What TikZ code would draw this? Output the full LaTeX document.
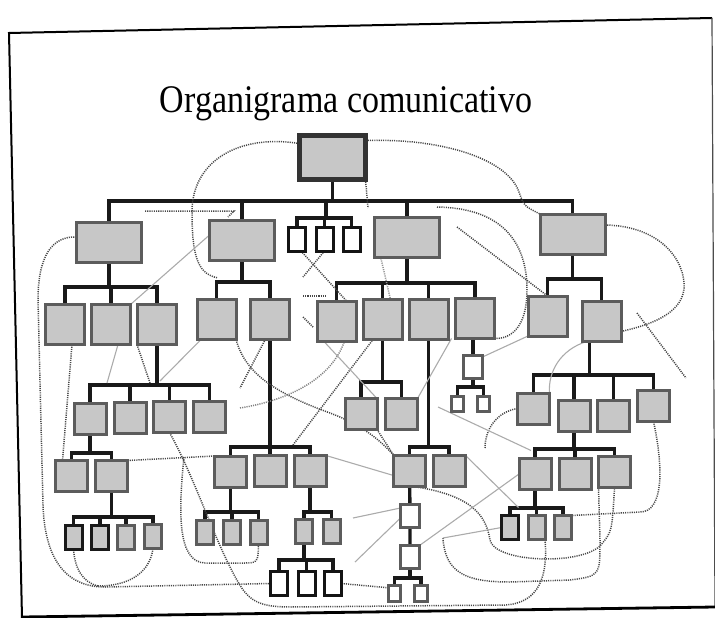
\documentclass[tikz,border=0pt]{standalone}
\usepackage{fontspec}
\setmainfont{Liberation Serif}
\usetikzlibrary{backgrounds}

\tikzset{
  box/.style={draw=black!64, line width=3pt, fill=black!22, inner sep=0pt, outer sep=0pt},
  head/.style={box, draw=black!80, line width=4.5pt, minimum width=66pt, minimum height=44pt},
  unit/.style={box, minimum width=65pt, minimum height=40pt},
  team/.style={box, minimum width=39pt, minimum height=40pt},
  seat/.style={box, minimum width=32pt, minimum height=31pt},
  desk/.style={box, minimum width=17pt, minimum height=24pt},
  ddesk/.style={desk, draw=black!90},
  wdesk/.style={desk, draw=black!92, fill=white},
  slot/.style={box, fill=white, minimum width=19pt, minimum height=23pt},
  cell/.style={box, fill=white, line width=2.6pt, minimum width=12.5pt, minimum height=15.5pt},
  link/.style={line width=3.4pt, black!90, line cap=rect},
  rumor/.style={line width=1.5pt, black!72, dash pattern=on 1.1pt off 1.1pt},
  contact/.style={line width=1.1pt, black!33},
}

\begin{document}
\begin{tikzpicture}[x=1pt, y=-1pt]
    \useasboundingbox (0,0) rectangle (715,618);

    % sheet
    \coordinate (tl) at (9,33);
    \coordinate (tr) at (712,18);
    \coordinate (bl) at (22,618);
    \coordinate (br) at (715,607);
    \draw[line width=2pt] (bl) -- (tl) -- (tr);
    \draw[line width=1.2pt, black!70] (tr) -- (br);
    \draw[line width=2.8pt] ([yshift=1pt]bl) -- (br);

    \node[font=\fontsize{34}{40}\selectfont, anchor=base, yscale=1.15, transform shape] (title) at (346,113) {Organigrama comunicativo};

    % top
    \node[head] (root) at (332.5,157.5) {};

    % first level
    \node[unit] (A) at (109,242) {};
    \node[unit] (B) at (242,240) {};
    \node[unit] (C) at (407,237.5) {};
    \node[unit] (D) at (572.5,234) {};
    \node[wdesk] (w1) at (297,239) {};
    \node[wdesk] (w2) at (324.5,239) {};
    \node[wdesk] (w3) at (351.5,239) {};

    % second level
    \node[team] (A1) at (65,324.5) {};
    \node[team] (A2) at (111,324.5) {};
    \node[team] (A3) at (157,324.5) {};
    \node[team] (B1) at (216.5,319.5) {};
    \node[team] (B2) at (270,319) {};
    \node[team] (C1) at (336.5,321) {};
    \node[team] (C2) at (382.5,319.5) {};
    \node[team] (C3) at (428.5,319) {};
    \node[team] (C4) at (475,318.5) {};
    \node[team] (D1) at (547.5,316) {};
    \node[team] (D2) at (601.5,321.5) {};

    % left branch
    \node[seat] (A31) at (90,419) {};
    \node[seat] (A32) at (130,418) {};
    \node[seat] (A33) at (169.5,417) {};
    \node[seat] (A34) at (209.5,417) {};
    \node[seat] (A311) at (71.5,476) {};
    \node[seat] (A312) at (111.5,476) {};
    \node[ddesk] (a1) at (73.5,537.5) {};
    \node[ddesk] (a2) at (100,537.5) {};
    \node[desk] (a3) at (126,537.5) {};
    \node[desk] (a4) at (153,536.5) {};

    % middle-left branch
    \node[seat] (B21) at (230.5,471.5) {};
    \node[seat] (B22) at (270,471) {};
    \node[seat] (B23) at (310,471) {};
    \node[desk] (b1) at (205,532) {};
    \node[desk] (b2) at (232,532) {};
    \node[desk] (b3) at (258.5,532) {};
    \node[desk] (b4) at (304,531) {};
    \node[desk] (b5) at (331.5,531) {};
    \node[wdesk] (b6) at (279,583.5) {};
    \node[wdesk] (b7) at (306.5,583.5) {};
    \node[wdesk] (b8) at (333,583.5) {};

    % middle-right branch
    \node[seat] (C21) at (361,414) {};
    \node[seat] (C22) at (401.5,414) {};
    \node[seat] (C31) at (409.5,470.5) {};
    \node[seat] (C32) at (449,470.5) {};
    \node[slot] (s1) at (410,516) {};
    \node[slot] (s2) at (410,557) {};
    \node[cell] (t1) at (394.5,593.5) {};
    \node[cell] (t2) at (421,593.5) {};
    \node[slot] (u) at (473,367) {};
    \node[cell] (u1) at (457.5,404) {};
    \node[cell] (u2) at (483.5,404) {};

    % right branch
    \node[seat] (D21) at (533.5,408.5) {};
    \node[seat] (D22) at (574,416) {};
    \node[seat] (D23) at (613.5,415.5) {};
    \node[seat] (D24) at (653.5,406) {};
    \node[seat] (D221) at (535,474) {};
    \node[seat] (D222) at (575,474) {};
    \node[seat] (D223) at (614.5,472) {};
    \node[ddesk] (d1) at (510,527.5) {};
    \node[desk] (d2) at (536.5,527.5) {};
    \node[desk] (d3) at (563,527.5) {};

    \begin{scope}[on background layer]
        % formal lines
        \coordinate (lv0) at (0,201);
        \coordinate (w0) at (326,218);
        \foreach \c in {A,B,C,D,w0} \draw[link] (root) |- (\c |- lv0) -- (\c);
        \foreach \c in {w1,w2,w3} \draw[link] (w0) -- (\c |- w0) -- (\c);
        \coordinate (lvA) at (0,287);
        \foreach \c in {A1,A2,A3} \draw[link] (A) |- (\c |- lvA) -- (\c);
        \coordinate (lvB) at (0,282);
        \foreach \c in {B1,B2} \draw[link] (B) |- (\c |- lvB) -- (\c);
        \coordinate (lvC) at (0,283);
        \foreach \c in {C1,C2,C3,C4} \draw[link] (C) |- (\c |- lvC) -- (\c);
        \coordinate (lvD) at (0,279);
        \foreach \c in {D1,D2} \draw[link] (D) |- (\c |- lvD) -- (\c);
        \coordinate (lvA3) at (0,385);
        \foreach \c in {A31,A32,A33,A34} \draw[link] (A3) |- (\c |- lvA3) -- (\c);
        \coordinate (lvA31) at (0,453);
        \foreach \c in {A311,A312} \draw[link] (A31) |- (\c |- lvA31) -- (\c);
        \coordinate (lvA312) at (0,517);
        \foreach \c in {a1,a2,a3,a4} \draw[link] (A312) |- (\c |- lvA312) -- (\c);
        \coordinate (lvB2) at (0,447);
        \foreach \c in {B21,B22,B23} \draw[link] (B2) |- (\c |- lvB2) -- (\c);
        \coordinate (lvB21) at (0,512);
        \foreach \c in {b1,b2,b3} \draw[link] (B21) |- (\c |- lvB21) -- (\c);
        \foreach \c in {b4,b5} \draw[link] (B23) |- (\c |- lvB21) -- (\c);
        \coordinate (lvb4) at (0,560);
        \foreach \c in {b6,b7,b8} \draw[link] (b4) |- (\c |- lvb4) -- (\c);
        \coordinate (lvC2) at (0,382);
        \foreach \c in {C21,C22} \draw[link] (C2) |- (\c |- lvC2) -- (\c);
        \coordinate (lvC3) at (0,447);
        \foreach \c in {C31,C32} \draw[link] (C3) |- (\c |- lvC3) -- (\c);
        \draw[link] (C31) -- (s1) -- (s2);
        \coordinate (lvs2) at (0,578);
        \foreach \c in {t1,t2} \draw[link] (s2) |- (\c |- lvs2) -- (\c);
        \draw[link] (u) -- (u |- C4.south);
        \coordinate (lvu) at (0,387);
        \foreach \c in {u1,u2} \draw[link] (u) |- (\c |- lvu) -- (\c);
        \coordinate (lvD2) at (0,375);
        \foreach \c in {D21,D22,D23,D24} \draw[link] ([xshift=-12pt]D2.south) |- (\c |- lvD2) -- (\c);
        \coordinate (lvD22) at (0,449);
        \foreach \c in {D221,D222,D223} \draw[link] (D22) |- (\c |- lvD22) -- (\c);
        \coordinate (lvD221) at (0,508);
        \foreach \c in {d1,d2,d3} \draw[link] (D221) |- (\c |- lvD221) -- (\c);

        % informal channels
        \coordinate (p1) at (218,278);
        \draw[rumor] ([yshift=14pt]root.west) .. controls (240,134) and (192,160) .. (192,212) .. controls (192,262) and (200,274) .. (p1);
        \draw[rumor] ([yshift=17pt]root.east) .. controls (445,138) and (508,160) .. (519,192) .. controls (524,206) .. (D.north west);
        \coordinate (p2) at (368,208);
        \draw[rumor] (root.south east) -- (p2);
        \coordinate (p3) at (145,211);
        \coordinate (p4) at (228,217);
        \draw[rumor] (p3) -- (234,211) -- (p4);
        \coordinate (p5) at (437,207);
        \draw[rumor] (p5) .. controls (500,208) and (527,240) .. (527,290) .. controls (527,326) and (512,339) .. (C4.south east);
        \draw[rumor] ([yshift=9pt]D.east) .. controls (662,226) and (686,262) .. (684,289) .. controls (681,316) and (645,326) .. ([yshift=-10pt]D2.east);
        \coordinate (p6) at (457,227);
        \draw[rumor] (p6) -- (D1.north);
        \coordinate (p7) at (637,313);
        \coordinate (p8) at (686,378);
        \draw[rumor] (p7) -- (p8);
        \draw[rumor] ([yshift=5pt]A.west) .. controls (52,236) and (38,256) .. (38,300) -- (43,505) .. controls (45,565) and (70,587) .. (105,587) -- (b6.west);
        \draw[rumor] (b8.east) -- ([yshift=-2pt]t1.north west);
        \draw[rumor] ([xshift=7pt]A1.south) -- ([xshift=-9pt]A311.north);
        \coordinate (p9) at (98,586);
        \draw[rumor] (a1.south) .. controls (75,568) and (82,582) .. (p9);
        \draw[rumor] (a4.south) .. controls (150,572) and (130,586) .. (p9);
        \draw[rumor] (A312.north east) -- (B21.north west);
        \coordinate (p10) at (184,457);
        \draw[rumor] (p10) .. controls (178,515) and (178,562) .. (205,563) -- (242,563) .. controls (258,563) .. (b3.south);
        \draw[rumor] (A33.south) .. controls (195,478) and (214,540) .. (238,582) .. controls (250,603) and (262,607) .. (292,607) -- (505,605) .. controls (540,603) and (548,575) .. (d2.south east);
        \draw[rumor] (C31.south) .. controls (470,494) and (486,514) .. (490,540) .. controls (494,562) and (578,566) .. (600,546) .. controls (612,532) .. (D223.south);
        \coordinate (p11) at (443,538);
        \draw[rumor] (p11) .. controls (445,574) and (468,582) .. (510,582) -- (570,580) .. controls (600,576) .. (600,540) -- (D223.south west);
        \draw[rumor] (D24.south) .. controls (664,470) and (663,512) .. (640,512) -- (d3.north east);
        \coordinate (p12) at (485,448);
        \draw[rumor] (D21.west) .. controls (496,412) and (485,430) .. (p12);
        \coordinate (p13) at (293,445);
        \draw[rumor] (p13) -- ([xshift=10pt]C2.south west);
        \draw[rumor] (B1.south east) .. controls (245,372) and (272,392) .. (330,413) .. controls (362,425) and (380,440) .. (C31.north west);
        \coordinate (p14) at (240,388);
        \draw[rumor] ([xshift=15pt]B2.south west) -- (p14);
        \coordinate (p15) at (303,296);
        \coordinate (p16) at (327,296);
        \draw[rumor] (p15) -- (p16);
        \coordinate (p17) at (303,317);
        \coordinate (p18) at (313,327);
        \draw[rumor] (p17) -- (p18);
        \coordinate (p19) at (150,383);
        \draw[rumor] ([xshift=-20pt]A3.south) -- (p19);
        \draw[rumor] ([xshift=4pt]w1.south) -- ([xshift=10pt]C1.north);
        \coordinate (p20) at (303,277);
        \draw[rumor] (w2.south) -- (p20);
        \draw[rumor, black!42] ([yshift=7pt]C.west) -- ([xshift=8pt]C2.north);
        \draw[rumor] (C21.south east) -- (C31.north west);
        \coordinate (p21) at (240,408);
        \draw[rumor, black!50] (p21) .. controls (290,400) and (332,378) .. ([xshift=8pt]C1.south);

        % side contacts
        \draw[contact] ([yshift=5pt]B.west) -- (A2.north east);
        \coordinate (q1) at (160,381);
        \draw[contact] ([xshift=4pt]B1.south west) -- (q1);
        \coordinate (q2) at (107,383);
        \draw[contact] ([xshift=7pt]A2.south) -- (q2);
        \draw[contact] ([xshift=-13pt]C1.south) -- (C21.north east);
        \draw[contact] ([xshift=-4pt]C4.south west) -- (C22.north east);
        \draw[contact] ([yshift=10pt]u.east) -- (D1.south west);
        \draw[contact] ([xshift=-15pt]D2.south) .. controls (560,350) and (548,372) .. (D21.north east);
        \coordinate (q4) at (438,407);
        \draw[contact] (q4) -- ([xshift=12pt,yshift=8pt]D221.north west);
        \draw[contact] (C32.north east) -- ([yshift=8pt]d1.north east);
        \draw[contact] (p11) -- (d1.west);
        \draw[contact] (s2.north east) -- (D221.west);
        \coordinate (q5) at (353,518);
        \coordinate (q6) at (355,562);
        \draw[contact] ([yshift=8pt]s1.west) -- (q5);
        \draw[contact] ([yshift=-2pt]s1.west) -- (q6);
        \draw[contact] (B23.north east) -- ([yshift=-5pt]C31.west);
    \end{scope}
\end{tikzpicture}
\end{document}
